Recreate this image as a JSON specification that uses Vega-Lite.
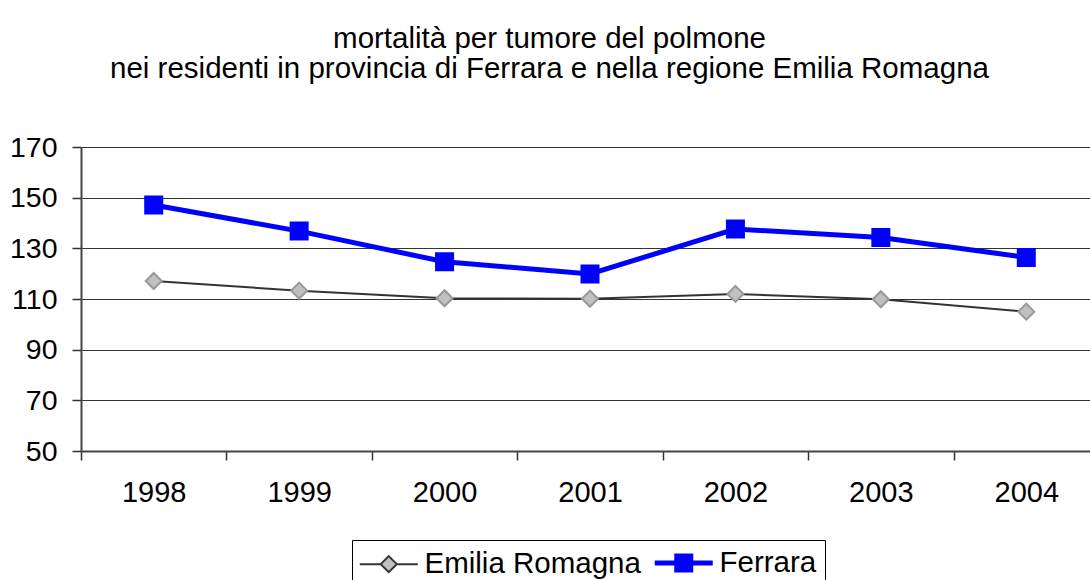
{
  "$schema": "https://vega.github.io/schema/vega-lite/v6.json",
  "autosize": {"type": "none"},
  "padding": {"left": 81, "top": 147, "right": 0, "bottom": 129},
  "width": 1009,
  "height": 304,
  "background": "white",
  "title": {
    "text": ["mortalità per tumore del polmone", "nei residenti in provincia di Ferrara e nella regione Emilia Romagna"],
    "font": "Liberation Sans",
    "fontSize": 29.5,
    "fontWeight": "normal",
    "color": "#000000",
    "lineHeight": 30,
    "anchor": "middle",
    "dx": -36,
    "offset": 49
  },
  "config": {
    "view": {"stroke": null},
    "font": "Liberation Sans"
  },
  "data": {
    "values": [
      {"year": "1998", "series": "Emilia Romagna", "value": 117.1},
      {"year": "1999", "series": "Emilia Romagna", "value": 113.3},
      {"year": "2000", "series": "Emilia Romagna", "value": 110.3},
      {"year": "2001", "series": "Emilia Romagna", "value": 110.1},
      {"year": "2002", "series": "Emilia Romagna", "value": 112.0},
      {"year": "2003", "series": "Emilia Romagna", "value": 109.9},
      {"year": "2004", "series": "Emilia Romagna", "value": 105.0},
      {"year": "1998", "series": "Ferrara", "value": 147.1},
      {"year": "1999", "series": "Ferrara", "value": 136.8},
      {"year": "2000", "series": "Ferrara", "value": 124.7},
      {"year": "2001", "series": "Ferrara", "value": 119.9},
      {"year": "2002", "series": "Ferrara", "value": 137.6},
      {"year": "2003", "series": "Ferrara", "value": 134.3},
      {"year": "2004", "series": "Ferrara", "value": 126.4}
    ]
  },
  "encoding": {
    "x": {
      "field": "year",
      "type": "ordinal",
      "scale": {"type": "band", "range": [0, 1018], "paddingInner": 0, "paddingOuter": 0},
      "axis": {
        "title": null,
        "labelAngle": 0,
        "tickBand": "extent",
        "tickSize": 9,
        "tickColor": "#333333",
        "tickWidth": 1.5,
        "domainColor": "#444444",
        "domainWidth": 2,
        "labelFont": "Liberation Sans",
        "labelFontSize": 29,
        "labelColor": "#000000",
        "labelPadding": 18,
        "grid": false
      }
    },
    "y": {
      "field": "value",
      "type": "quantitative",
      "scale": {"domain": [50, 170], "nice": false, "zero": false},
      "axis": {
        "title": null,
        "values": [50, 70, 90, 110, 130, 150, 170],
        "grid": true,
        "gridColor": "#333333",
        "gridWidth": 1,
        "tickSize": 9,
        "tickColor": "#333333",
        "tickWidth": 1.5,
        "domainColor": "#444444",
        "domainWidth": 2,
        "labelFont": "Liberation Sans",
        "labelFontSize": 28.5,
        "labelColor": "#000000",
        "labelPadding": 15
      }
    }
  },
  "layer": [
    {
      "mark": {"type": "line"},
      "encoding": {
        "color": {
          "field": "series",
          "type": "nominal",
          "scale": {"domain": ["Emilia Romagna", "Ferrara"], "range": ["#333333", "#0000ff"]},
          "legend": {
            "orient": "none",
            "legendX": 271,
            "legendY": 393,
            "direction": "horizontal",
            "title": null,
            "strokeColor": "#000000",
            "fillColor": "#ffffff",
            "padding": 8,
            "labelFont": "Liberation Sans",
            "labelFontSize": 29.5,
            "labelColor": "#000000",
            "labelLimit": 600,
            "symbolSize": 400,
            "symbolStrokeWidth": 2,
            "symbolOffset": 14,
            "labelOffset": 21,
            "columnPadding": 3,
            "encode": {
              "symbols": {
                "update": {
                  "shape": {"signal": "datum.value === 'Ferrara' ? 'M-2.9,0H2.9M-0.7,-0.7H0.7V0.7H-0.7Z' : 'M-2.9,0H-0.8M0.8,0H2.9M-0.8,0L0,-0.8L0.8,0L0,0.8Z'"},
                  "fill": {"signal": "datum.value === 'Ferrara' ? '#0000ff' : '#c0c0c0'"},
                  "stroke": {"signal": "datum.value === 'Ferrara' ? '#0000ff' : '#555555'"},
                  "strokeWidth": {"signal": "datum.value === 'Ferrara' ? 5 : 2"},
                  "opacity": {"value": 1}
                }
              }
            }
          }
        },
        "strokeWidth": {
          "field": "series",
          "type": "ordinal",
          "scale": {"domain": ["Emilia Romagna", "Ferrara"], "range": [2, 5]},
          "legend": null
        }
      }
    },
    {
      "transform": [{"filter": "datum.series === 'Emilia Romagna'"}],
      "mark": {"type": "point", "shape": "diamond", "filled": true, "fill": "#c0c0c0", "stroke": "#999999", "strokeWidth": 2, "size": 256, "opacity": 1}
    },
    {
      "transform": [{"filter": "datum.series === 'Ferrara'"}],
      "mark": {"type": "point", "shape": "square", "filled": true, "fill": "#0000ff", "stroke": "#0000ff", "strokeWidth": 2, "size": 289, "opacity": 1}
    }
  ]
}
